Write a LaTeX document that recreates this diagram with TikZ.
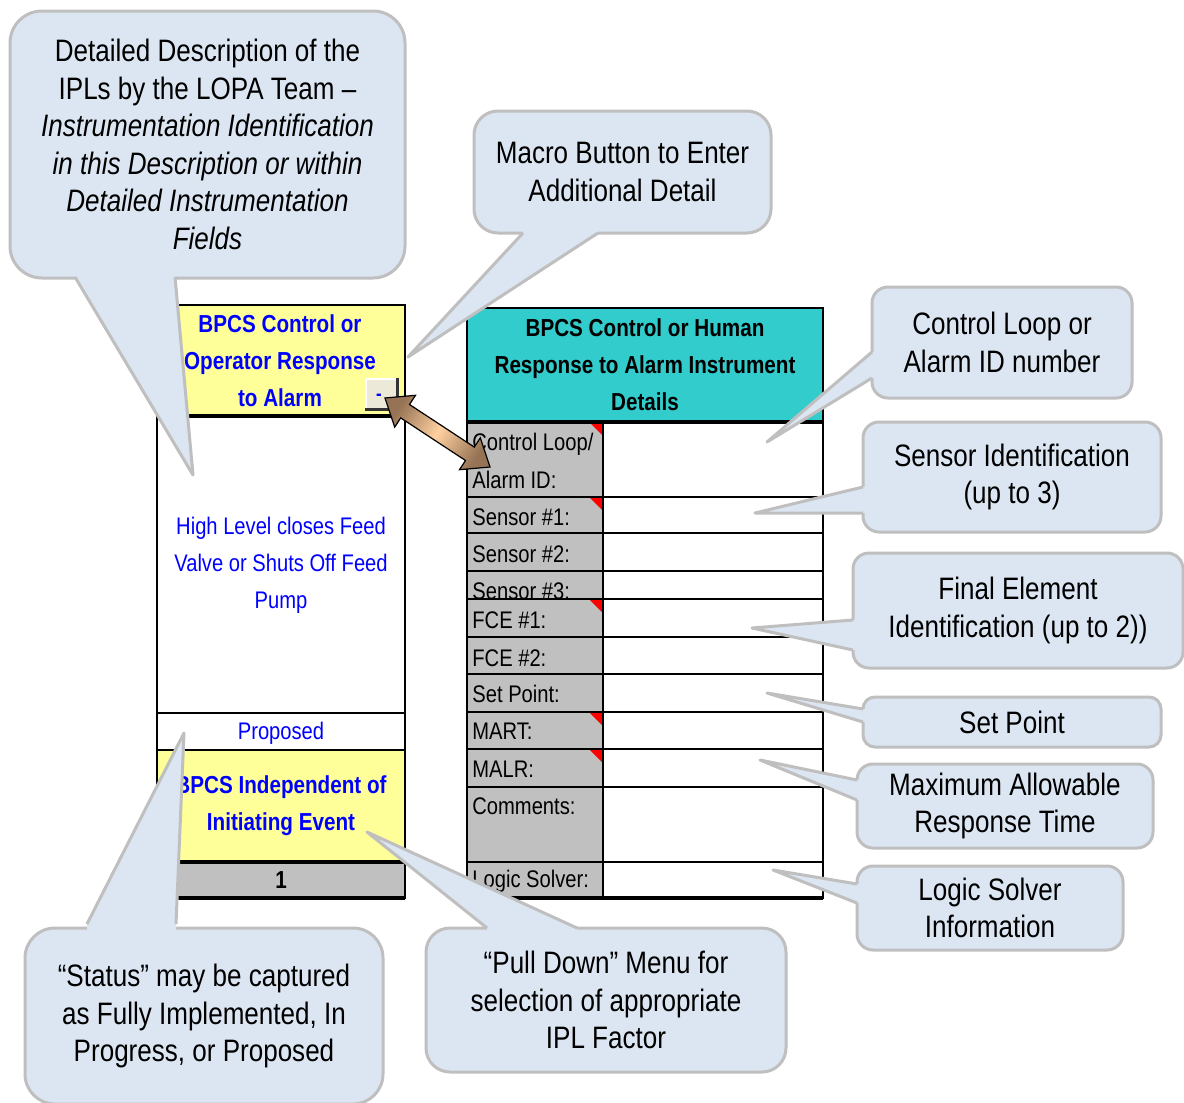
\documentclass[tikz,border=0pt]{standalone}
\usepackage{fontspec}
\setmainfont[FakeStretch=0.84]{Liberation Sans}
\usepackage{xcolor}
\definecolor{bubblefill}{RGB}{220,230,242}
\definecolor{bubbleline}{RGB}{191,191,191}
\definecolor{cellyellow}{RGB}{255,255,153}
\definecolor{cellteal}{RGB}{51,204,204}
\definecolor{cellgrey}{RGB}{192,192,192}
\definecolor{btnface}{RGB}{236,233,216}
\definecolor{arrowdark}{RGB}{150,115,85}
\definecolor{arrowlight}{RGB}{255,208,160}

\begin{document}
\begin{tikzpicture}[x=0.5pt, y=-0.5pt,
  cell/.style={draw=black, line width=1pt},
  thickcell/.style={draw=black, line width=1.6pt},
  lbl/.style={anchor=west, inner sep=0pt, align=left, font=\fontsize{12}{19}\selectfont},
  bluetxt/.style={text=blue, align=center, inner sep=0pt, font=\fontsize{12}{18.5}\selectfont},
  headtxt/.style={align=center, inner sep=0pt, font=\fontsize{12.3}{18.5}\selectfont\bfseries},
  bubble/.style={draw=bubbleline, line width=1.5pt, fill=bubblefill, rounded corners=8pt,
    align=center, inner sep=0pt, font=\fontsize{15.5}{18.8}\selectfont},
  tailfill/.style={fill=bubblefill},
  tailedge/.style={draw=bubbleline, line width=1.5pt, line join=round}]

\useasboundingbox (0,0) rectangle (1184,1103);
\fill[white] (0,0) rectangle (1184,1103);

% IPL column of the worksheet
\fill[cellyellow] (157,305) rectangle (405,416);
\fill[cellyellow] (157,750) rectangle (405,862);
\fill[cellgrey] (157,862) rectangle (405,898);
\draw[cell] (157,305) rectangle (405,898);
\foreach \y in {713,750} \draw[cell] (157,\y) -- (405,\y);
\foreach \y in {416,862,898} \draw[thickcell] (157,\y) -- (405,\y);

\node[headtxt, text=blue] (iplHead) at (280,361) {BPCS Control or\\Operator Response\\to Alarm};
\node[bluetxt] (iplDesc) at (281,565) {High Level closes Feed\\Valve or Shuts Off Feed\\Pump};
\node[bluetxt] (iplStatus) at (281,733) {Proposed};
\node[headtxt, text=blue] (iplIndep) at (281,806) {BPCS Independent of\\Initiating Event};
\node[headtxt] (iplFactor) at (281,880) {1};

% macro button
\fill[btnface] (365,378) rectangle (397,409);
\draw[white, line width=1pt] (366,408) -- (366,379) -- (396,379);
\draw[black!80, line width=1.5pt] (365,409) -- (397,409) -- (397,378);
\node[text=blue, inner sep=0pt, font=\bfseries] (btnMacro) at (379,397) {-};

% instrument details table
\fill[cellteal] (467,308) rectangle (823,422);
\fill[cellgrey] (467,422) rectangle (603,898);
\foreach \y in {422,497,599,712,749} \fill[red] (590,\y+1) -- (602,\y+1) -- (602,\y+13) -- cycle;
\draw[cell] (467,308) rectangle (823,898);
\draw[thickcell] (467,422) -- (823,422);
\draw[cell] (603,422) -- (603,898);
\foreach \y in {497,533,571,599,637,674,712,749,787,862} \draw[cell] (467,\y) -- (823,\y);
\draw[thickcell] (467,898) -- (823,898);

\node[headtxt] (detHead) at (645,365) {BPCS Control or Human\\Response to Alarm Instrument\\Details};
\node[lbl] (lblLoop) at (472,461) {Control Loop/\\Alarm ID:};
\node[lbl] (lblSensA) at (472,517) {Sensor \#1:};
\node[lbl] (lblSensB) at (472,554) {Sensor \#2:};
\begin{scope}
\clip (467,571) rectangle (603,599);
\node[lbl] (lblSensC) at (472,591) {Sensor \#3:};
\end{scope}
\node[lbl] (lblFceA) at (472,620) {FCE \#1:};
\node[lbl] (lblFceB) at (472,658) {FCE \#2:};
\node[lbl] (lblSet) at (472,694) {Set Point:};
\node[lbl] (lblMart) at (472,731) {MART:};
\node[lbl] (lblMalr) at (472,769) {MALR:};
\node[lbl] (lblCom) at (472,806) {Comments:};
\node[lbl] (lblLogic) at (472,881) {Logic Solver:};

% double arrow from button to the details
\shade[draw=black, line width=0.6pt, left color=arrowdark, right color=arrowdark,
  middle color=arrowlight, shading angle=57]
  (385,398) -- (394.7,427.1) -- (400.7,417.9) -- (465.5,460.5) -- (459.5,469.7)
  -- (490,467) -- (480.3,437.9) -- (474.3,447.1) -- (409.5,404.5) -- (415.5,395.3) -- cycle;

% callouts
\node[bubble, rounded corners=16pt, minimum width=197.5pt, minimum height=133.5pt] (cbDesc) at (207.5,144.5)
  {Detailed Description of the\\IPLs by the LOPA Team –\\\textit{Instrumentation Identification}\\\textit{in this Description or within}\\\textit{Detailed Instrumentation}\\\textit{Fields}};
\fill[tailfill] (193,475) -- (75,277) -- (75,271) -- (175,271) -- (175,277) -- cycle;
\draw[tailedge] (75,277) -- (193,475) -- (175,277);

\node[bubble, rounded corners=12pt, minimum width=148.5pt, minimum height=61pt] (cbMacro) at (622.5,172)
  {Macro Button to Enter\\Additional Detail};
\fill[tailfill] (408,357) -- (523,233) -- (523,227) -- (598,227) -- (598,233) -- cycle;
\draw[tailedge] (523,233) -- (408,357) -- (598,233);

\node[bubble, minimum width=130pt, minimum height=55.5pt] (cbLoop) at (1002,342.5)
  {Control Loop or\\Alarm ID number};
\fill[tailfill] (767,442) -- (872,352) -- (878,352) -- (878,378) -- (872,378) -- cycle;
\draw[tailedge] (872,352) -- (767,442) -- (872,378);

\node[bubble, minimum width=149pt, minimum height=55pt] (cbSensor) at (1012,477)
  {Sensor Identification\\(up to 3)};
\fill[tailfill] (755,513) -- (863,487) -- (869,487) -- (869,513) -- (863,513) -- cycle;
\draw[tailedge] (863,487) -- (755,513) -- (863,513);

\node[bubble, minimum width=165pt, minimum height=57.5pt] (cbFinal) at (1018,610.5)
  {Final Element\\Identification (up to 2))};
\fill[tailfill] (752,628) -- (853,620) -- (859,620) -- (859,650) -- (853,650) -- cycle;
\draw[tailedge] (853,620) -- (752,628) -- (853,650);

\node[bubble, rounded corners=6pt, minimum width=149pt, minimum height=25pt] (cbSetPoint) at (1012,722)
  {Set Point};
\fill[tailfill] (767,693) -- (863,709) -- (869,709) -- (869,722) -- (863,722) -- cycle;
\draw[tailedge] (863,709) -- (767,693) -- (863,722);

\node[bubble, minimum width=148pt, minimum height=42pt] (cbMart) at (1005,806)
  {Maximum Allowable\\Response Time};
\fill[tailfill] (760,760) -- (857,780) -- (863,780) -- (863,800) -- (857,800) -- cycle;
\draw[tailedge] (857,780) -- (760,760) -- (857,800);

\node[bubble, minimum width=133pt, minimum height=42pt] (cbLogic) at (990,908)
  {Logic Solver\\Information};
\fill[tailfill] (773,870) -- (857,884) -- (863,884) -- (863,903) -- (857,903) -- cycle;
\draw[tailedge] (857,884) -- (773,870) -- (857,903);

\node[bubble, rounded corners=15pt, minimum width=179pt, minimum height=88pt] (cbStatus) at (204,1016)
  {“Status” may be captured\\as Fully Implemented, In\\Progress, or Proposed};
\fill[tailfill] (184,733) -- (87,924) -- (87,930) -- (176,930) -- (176,924) -- cycle;
\draw[tailedge] (87,924) -- (184,733) -- (176,924);

\node[bubble, rounded corners=12pt, minimum width=180pt, minimum height=72pt] (cbPull) at (606,1000)
  {“Pull Down” Menu for\\selection of appropriate\\IPL Factor};
\fill[tailfill] (367,832) -- (487,928) -- (487,934) -- (577,934) -- (577,928) -- cycle;
\draw[tailedge] (487,928) -- (367,832) -- (577,928);

\end{tikzpicture}
\end{document}
